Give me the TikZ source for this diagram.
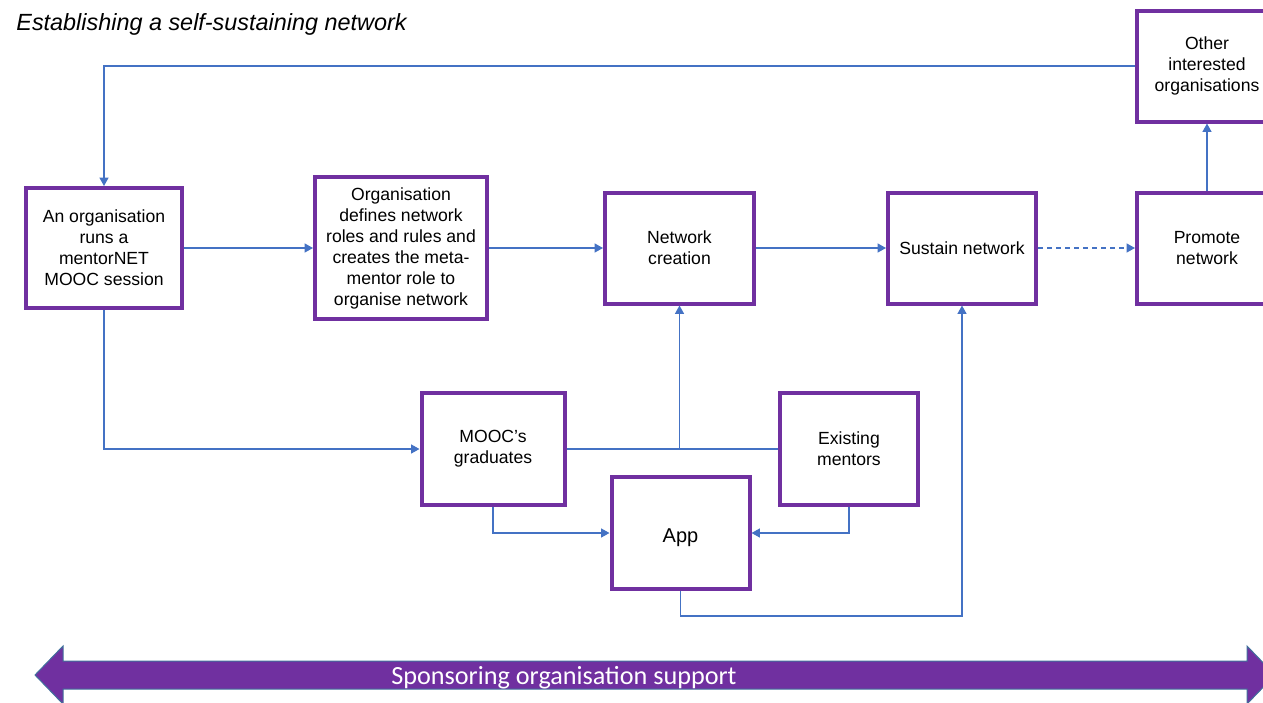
\documentclass[tikz,border=0pt]{standalone}
\usepackage{fontspec}
\setmainfont{Liberation Sans}
\newfontfamily\bannerfont{Carlito}
\usetikzlibrary{positioning}
\usetikzlibrary{arrows.meta}
\definecolor{boxpurple}{HTML}{7030A0}
\definecolor{linkblue}{HTML}{4472C4}
\definecolor{banneredge}{HTML}{41719C}
\tikzset{%
  myline/.style={linkblue, line width=0.65pt},
  mylink/.style={myline, ->, >={Triangle[length=4.2pt,width=4.5pt]}},
  mybox/.style={rectangle, draw=boxpurple, line width=2pt, fill=white, align=center, inner sep=0pt, font=\fontsize{8.8}{10.5}\selectfont}
}

\begin{document}
\begin{tikzpicture}[x=0.5pt, y=-0.5pt]
  \useasboundingbox (0,0) rectangle (1263,702);
  \clip (0,0) rectangle (1263,702);
  \node[anchor=base west, inner sep=0pt, font=\fontsize{11.7}{14}\selectfont\itshape] (title) at (16,30) {Establishing a self-sustaining network};

  \node[mybox, minimum width=78pt, minimum height=60pt] (mooc) at (104,248) {An organisation\\runs a\\mentorNET\\MOOC session};
  \node[mybox, minimum width=86pt, minimum height=71pt, right=64.5pt of mooc] (roles) {Organisation\\defines network\\roles and rules and\\creates the meta-\\mentor role to\\organise network};
  \node[mybox, minimum width=74.5pt, minimum height=55.5pt, right=57pt of roles] (create) {Network\\creation};
  \node[mybox, minimum width=74pt, minimum height=55.5pt, right=65pt of create] (sustain) {Sustain network};
  \node[mybox, minimum width=70pt, minimum height=55.5pt, right=48.5pt of sustain] (promote) {Promote\\network};
  \node[mybox, minimum width=70pt, minimum height=55.5pt, above=33.5pt of promote] (others) {Other\\interested\\organisations};

  \node[mybox, minimum width=71.5pt, minimum height=56pt] (grads) at (493,449) {MOOC’s\\graduates};
  \node[mybox, minimum width=69pt, minimum height=56pt] (mentors) at (849,449) {Existing\\mentors};
  \node[mybox, minimum width=69pt, minimum height=56pt, font=\fontsize{10}{12}\selectfont, text depth=0pt, text height=9pt] (app) at (680.5,533) {App};

  \draw[mylink] (mooc) -- (roles);
  \draw[mylink] (roles) -- (create);
  \draw[mylink] (create) -- (sustain);
  \draw[mylink, dash pattern=on 2.5pt off 2pt] (sustain) -- (promote);
  \draw[mylink] (promote) -- (others);
  \draw[mylink] (others.west) -| (mooc.north);
  \draw[mylink] (mooc.south) |- (grads.west);
  \draw[myline] (grads.east) -- (mentors.west);
  \coordinate (join) at (create.south |- grads.east);
  \draw[mylink] (join) -- (create.south);
  \draw[mylink] (grads.south) |- (app.west);
  \draw[mylink] (mentors.south) |- (app.east);
  \draw[mylink] (app.south) -- ++(0,25) -| (sustain.south);

  \filldraw[fill=boxpurple, draw=banneredge, line width=0.5pt] (35,675) -- (63,646) -- (63,661) -- (1247,661) -- (1247,646) -- (1275,675) -- (1247,704) -- (1247,689) -- (63,689) -- (63,704) -- cycle;
  \node[anchor=base, inner sep=0pt, text=white, font=\bannerfont\fontsize{13.1}{15}\selectfont] (banner) at (564,684) {Sponsoring organisation support};
\end{tikzpicture}
\end{document}
